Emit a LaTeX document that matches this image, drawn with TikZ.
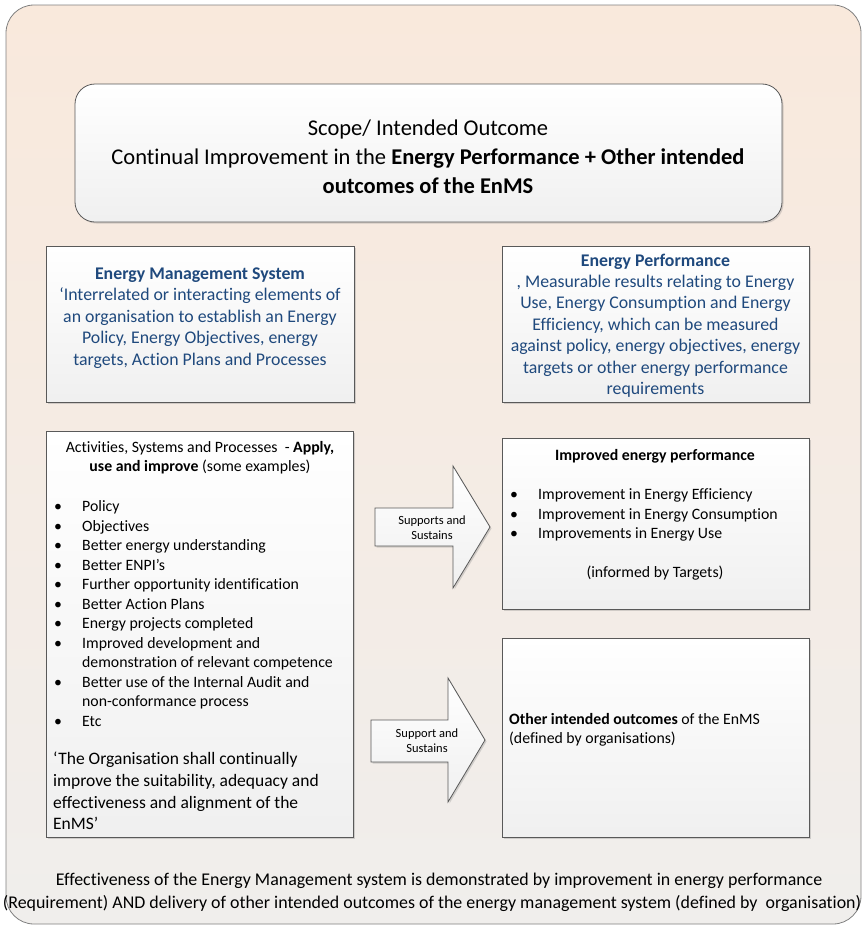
\documentclass[tikz,border=0pt]{standalone}
\usepackage{fontspec}
\setmainfont{Carlito}[Ligatures={NoCommon}]
\usetikzlibrary{shadows}
\definecolor{enblue}{RGB}{31,73,125}
\definecolor{peach}{RGB}{249,233,220}
\definecolor{greybot}{RGB}{240,238,236}
\newcommand\bitem{\makebox[28pt][l]{\textbullet}}
\newcommand\bcont{\hspace*{28pt}}
\begin{document}
\begin{tikzpicture}[x=1pt,y=-1pt,
  panel/.style={draw=black!65, line width=0.8pt, top color=white, bottom color=black!6,
    inner sep=0pt, outer sep=0pt,
    drop shadow={shadow xshift=1.5pt,shadow yshift=-1.5pt,opacity=0.3}},
  bigtxt/.style={font=\fontsize{22.5}{29}\selectfont, align=center, inner sep=0pt},
  bluetxt/.style={font=\fontsize{17.8}{21.4}\selectfont, align=center, text=enblue, inner sep=0pt},
  smalltxt/.style={font=\fontsize{15.8}{19.5}\selectfont, inner sep=0pt},
  quotetxt/.style={font=\fontsize{17.5}{21.6}\selectfont, align=left, inner sep=0pt},
  arrtxt/.style={font=\fontsize{12.5}{15}\selectfont, align=center, inner sep=0pt},
  foottxt/.style={font=\fontsize{17.9}{23}\selectfont, align=center, inner sep=0pt}
]
\useasboundingbox (0,0) rectangle (863,926);
% background panel
\path[draw=black!50, line width=0.8pt, rounded corners=28pt, top color=peach, bottom color=greybot]
  (6,5) rectangle (861,924);

% top box
\node[panel, rounded corners=20pt, anchor=north west, minimum width=707pt, minimum height=138pt] (scope) at (75,84) {};
\node[bigtxt] (scopetxt) at (428,157) {Scope/ Intended Outcome\\Continual Improvement in the \textbf{Energy Performance + Other intended}\\\textbf{outcomes of the EnMS}};

% blue definition boxes
\node[panel, anchor=north west, minimum width=308pt, minimum height=156pt] (ems) at (46,246) {};
\node[bluetxt] (emstxt) at (200,318) {\textbf{Energy Management System}\\‘Interrelated or interacting elements of\\an organisation to establish an Energy\\Policy, Energy Objectives, energy\\targets, Action Plans and Processes};

\node[panel, anchor=north west, minimum width=307pt, minimum height=156pt] (ep) at (502,246) {};
\node[bluetxt] (eptxt) at (655.5,325.5) {\textbf{Energy Performance}\\, Measurable results relating to Energy\\Use, Energy Consumption and Energy\\Efficiency, which can be measured\\against policy, energy objectives, energy\\targets or other energy performance\\requirements};

% activities box
\node[panel, anchor=north west, minimum width=307pt, minimum height=406pt] (act) at (46,431) {};
\node[smalltxt, align=center] (acthead) at (200,457.5) {Activities, Systems and Processes~~- \textbf{Apply,}\\\textbf{use and improve} (some examples)};
\node[smalltxt, align=left, anchor=west] (actlist) at (54,613.5) {\bitem Policy\\\bitem Objectives\\\bitem Better energy understanding\\\bitem Better ENPI’s\\\bitem Further opportunity identification\\\bitem Better Action Plans\\\bitem Energy projects completed\\\bitem Improved development and\\\bcont demonstration of relevant competence\\\bitem Better use of the Internal Audit and\\\bcont non-conformance process\\\bitem Etc};
\node[quotetxt, anchor=west] (actquote) at (53,791) {‘The Organisation shall continually\\improve the suitability, adequacy and\\effectiveness and alignment of the\\EnMS’};

% outcome boxes
\node[panel, anchor=north west, minimum width=307pt, minimum height=171pt] (iep) at (502,438) {};
\node[smalltxt] (ieptitle) at (655,456) {\textbf{Improved energy performance}};
\node[smalltxt, align=left, anchor=west] (ieplist) at (510,515) {\bitem Improvement in Energy Efficiency\\\bitem Improvement in Energy Consumption\\\bitem Improvements in Energy Use};
\node[smalltxt] (iepnote) at (655,573) {(informed by Targets)};

\node[panel, anchor=north west, minimum width=307pt, minimum height=199pt] (oio) at (502,638) {};
\node[smalltxt, align=left, anchor=west] (oiotxt) at (509,730) {\textbf{Other intended outcomes} of the EnMS\\(defined by organisations)};

% block arrows
\path[panel] (375,508) -- (453,508) -- (453,466) -- (490,527) -- (453,588) -- (453,546) -- (375,546) -- cycle;
\node[arrtxt] (arr1txt) at (432,528) {Supports and\\Sustains};
\path[panel] (371,720) -- (448,720) -- (448,678) -- (485,740) -- (448,802) -- (448,762) -- (371,762) -- cycle;
\node[arrtxt] (arr2txt) at (427,741) {Support and\\Sustains};

% footer
\node[foottxt] (foot) at (432,892) {\hspace*{14pt}Effectiveness of the Energy Management system is demonstrated by improvement in energy performance\\(Requirement) AND delivery of other intended outcomes of the energy management system (defined by~~organisation)};
\end{tikzpicture}
\end{document}
